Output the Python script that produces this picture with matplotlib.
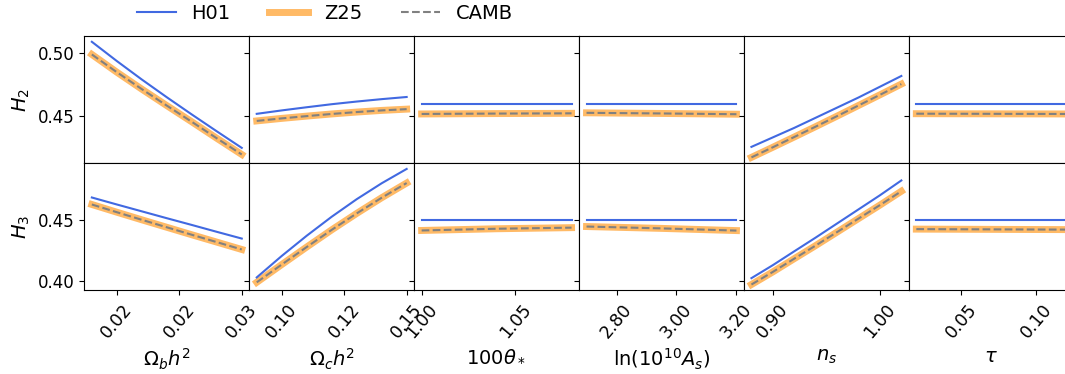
import matplotlib
matplotlib.use("Agg")
import matplotlib.pyplot as plt
from matplotlib.ticker import FormatStrFormatter

# parameter grids (one per column)
omb_x = [0.018, 0.020, 0.022, 0.024, 0.026, 0.028, 0.030]
omc_x = [0.09, 0.10, 0.11, 0.12, 0.13, 0.14, 0.15]
theta_x = [1.00, 1.04, 1.08]
lnas_x = [2.70, 2.95, 3.20]
ns_x = [0.88, 0.90, 0.92, 0.94, 0.96, 0.98, 1.00, 1.02]
tau_x = [0.02, 0.07, 0.12]

# H2 row
h2_h01_omb = [0.509, 0.4938, 0.4792, 0.4652, 0.4516, 0.4383, 0.4252]
h2_z25_omb = [0.499, 0.485, 0.4716, 0.4586, 0.4458, 0.4328, 0.4200]
h2_h01_omc = [0.4521, 0.4548, 0.4573, 0.4597, 0.4618, 0.4637, 0.4654]
h2_z25_omc = [0.4465, 0.4485, 0.4503, 0.4520, 0.4535, 0.4548, 0.4558]
h2_h01_theta = [0.46, 0.46, 0.46]
h2_z25_theta = [0.4520, 0.4523, 0.4525]
h2_h01_lnas = [0.46, 0.46, 0.46]
h2_z25_lnas = [0.4529, 0.4524, 0.4518]
h2_h01_ns = [0.426, 0.4335, 0.441, 0.449, 0.457, 0.465, 0.4735, 0.482]
h2_z25_ns = [0.4177, 0.4257, 0.4338, 0.442, 0.4503, 0.4587, 0.4671, 0.4756]
h2_h01_tau = [0.46, 0.46, 0.46]
h2_z25_tau = [0.4522, 0.4521, 0.4520]

# H3 row
h3_h01_omb = [0.4682, 0.4625, 0.4569, 0.4513, 0.4458, 0.4402, 0.4347]
h3_z25_omb = [0.4625, 0.4562, 0.4500, 0.4439, 0.4378, 0.4318, 0.4258]
h3_h01_omc = [0.403, 0.4205, 0.437, 0.4525, 0.4668, 0.4798, 0.4915]
h3_z25_omc = [0.399, 0.4135, 0.4278, 0.4418, 0.4552, 0.468, 0.480]
h3_h01_theta = [0.45, 0.45, 0.45]
h3_z25_theta = [0.4413, 0.4427, 0.4436]
h3_h01_lnas = [0.45, 0.45, 0.45]
h3_z25_lnas = [0.4445, 0.4430, 0.4412]
h3_h01_ns = [0.4024, 0.413, 0.4243, 0.4355, 0.447, 0.4585, 0.470, 0.4821]
h3_z25_ns = [0.3972, 0.4075, 0.4183, 0.429, 0.440, 0.451, 0.462, 0.4733]
h3_h01_tau = [0.45, 0.45, 0.45]
h3_z25_tau = [0.4424, 0.4422, 0.4420]

xs = [omb_x, omc_x, theta_x, lnas_x, ns_x, tau_x]
h2_h01 = [h2_h01_omb, h2_h01_omc, h2_h01_theta, h2_h01_lnas, h2_h01_ns, h2_h01_tau]
h2_z25 = [h2_z25_omb, h2_z25_omc, h2_z25_theta, h2_z25_lnas, h2_z25_ns, h2_z25_tau]
h3_h01 = [h3_h01_omb, h3_h01_omc, h3_h01_theta, h3_h01_lnas, h3_h01_ns, h3_h01_tau]
h3_z25 = [h3_z25_omb, h3_z25_omc, h3_z25_theta, h3_z25_lnas, h3_z25_ns, h3_z25_tau]
# CAMB lies on top of Z25
h2_camb = h2_z25
h3_camb = h3_z25

xlabels = [r'$\Omega_b h^2$', r'$\Omega_c h^2$', r'$100\theta_*$',
           r'$\ln(10^{10}A_s)$', r'$n_s$', r'$\tau$']
xticks = [[0.020, 0.025, 0.030], [0.10, 0.125, 0.15], [1.00, 1.05],
          [2.80, 3.00, 3.20], [0.90, 1.00], [0.05, 0.10]]
xticklabels = [['0.02', '0.02', '0.03'], ['0.10', '0.12', '0.15'], ['1.00', '1.05'],
               ['2.80', '3.00', '3.20'], ['0.90', '1.00'], ['0.05', '0.10']]
ylabels = [r'$H_2$', r'$H_3$']
yticks = [[0.45, 0.50], [0.40, 0.45]]

fig, axes = plt.subplots(2, 6, figsize=(10.65, 3.74), dpi=100, sharex='col', sharey='row')
fig.subplots_adjust(left=0.0792, right=1.0082, top=0.9037, bottom=0.2238, wspace=0, hspace=0)

rows = [(h2_h01, h2_z25, h2_camb), (h3_h01, h3_z25, h3_camb)]
for i, (h01, z25, camb) in enumerate(rows):
    for j in range(6):
        ax = axes[i, j]
        lz, = ax.plot(xs[j], z25[j], color='darkorange', alpha=0.6, lw=5)
        lh, = ax.plot(xs[j], h01[j], color='royalblue', lw=1.5)
        lc, = ax.plot(xs[j], camb[j], color='gray', ls='--', lw=1.5)
        ax.tick_params(labelsize=12)
    axes[i, 0].set_yticks(yticks[i])
    axes[i, 0].yaxis.set_major_formatter(FormatStrFormatter('%.2f'))
    axes[i, 0].set_ylabel(ylabels[i], fontsize=14)

for j in range(6):
    axes[0, j].tick_params(axis='x', bottom=False)
    ax = axes[1, j]
    ax.set_xticks(xticks[j])
    ax.set_xticklabels(xticklabels[j], rotation=50, fontsize=12.5)
    ax.set_xlabel(xlabels[j], fontsize=14)

fig.legend([lh, lz, lc], ['H01', 'Z25', 'CAMB'], loc='center', ncol=3,
           frameon=False, fontsize=14, bbox_to_anchor=(0.305, 1 - 13.5 / 374))

fig.savefig('out.png', dpi=100)
